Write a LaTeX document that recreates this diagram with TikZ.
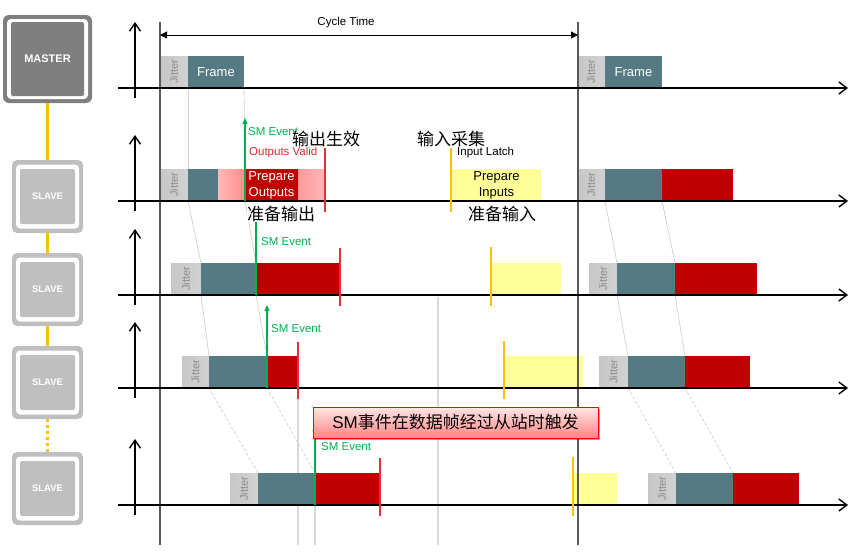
\documentclass[tikz,border=0pt]{standalone}
\usepackage{fontspec}
\setmainfont{Liberation Sans}
\newfontfamily\cjk{Noto Sans CJK SC}
\usetikzlibrary{arrows.meta,shadows}
\definecolor{tealc}{HTML}{557A84}
\definecolor{redc}{HTML}{C00000}
\definecolor{yelc}{HTML}{FFFF99}
\definecolor{chainc}{HTML}{FFC000}
\definecolor{grnc}{HTML}{00B050}
\definecolor{txtred}{HTML}{E0262E}
\definecolor{masterg}{HTML}{7F7F7F}
\definecolor{slaveg}{HTML}{BFBFBF}
\definecolor{gridc}{HTML}{CFCFCF}
\definecolor{markred}{HTML}{E0303A}
\newcommand\bx[6]{\node[#1, minimum width={(#4-#3)*1pt}] (#2) at (#3,#5) {#6};}
\newcommand\jt[4]{\node[jitbox, minimum width={(#3-#2)*1pt}] (#1) at (#2,#4) {};
  \node[jittext] (#1l) at (#1.center) {Jitter};}
\begin{document}
\begin{tikzpicture}[x=1pt,y=-1pt,
  seg/.style={draw=none, inner sep=0pt, outer sep=0pt, anchor=south west, minimum height=32pt},
  tealb/.style={seg, fill=tealc, text=white, font=\fontsize{13}{15}\selectfont},
  redb/.style={seg, fill=redc, text=white, align=center, font=\fontsize{13}{16}\selectfont},
  yelb/.style={seg, fill=yelc, text=black, align=center, font=\fontsize{13}{16}\selectfont},
  paleA/.style={seg, left color=red!28, middle color=red!6, right color=red!45},
  paleB/.style={seg, left color=red!40, middle color=red!4, right color=red!28},
  jitbox/.style={seg, left color=black!22, middle color=black!8, right color=black!18},
  jittext/.style={rotate=90, inner sep=0pt, text=black!45, font=\fontsize{11}{12}\selectfont},
  haxis/.style={line width=1.6pt, -{Straight Barb[length=8pt,width=12pt,line width=1.4pt]}},
  vaxis/.style={line width=1.6pt, -{Straight Barb[length=8pt,width=11pt,line width=1.4pt]}},
  thin/.style={draw=gridc, line width=0.7pt},
  thind/.style={draw=gridc, line width=0.7pt, dash pattern=on 3pt off 2pt},
  longg/.style={draw=black!15, line width=1.5pt},
  cyc/.style={draw=black!65, line width=1.2pt},
  redm/.style={draw=markred, line width=1.2pt},
  yelm/.style={draw=chainc, line width=1.5pt},
  grn/.style={draw=grnc, line width=1.1pt, -{Triangle[length=6pt,width=5pt]}},
  lab/.style={inner sep=0pt, anchor=west, font=\fontsize{11.5}{13}\selectfont},
  cjkl/.style={inner sep=0pt, text height=13.5pt, text depth=1.5pt, font=\cjk\fontsize{17}{19}\selectfont},
  cjkw/.style={cjkl, fill=white},
  chain/.style={draw=chainc, line width=3.5pt},
  outerM/.style={draw=none, fill=masterg, rounded corners=6pt, minimum width=89pt, minimum height=88pt},
  ringM/.style={draw=none, fill=white, rounded corners=4pt, minimum width=81pt, minimum height=80pt},
  innerM/.style={draw=none, fill=masterg, rounded corners=2pt, minimum width=73pt, minimum height=74pt,
     text=white, font=\bfseries\fontsize{11}{12}\selectfont},
  outerS/.style={draw=none, fill=slaveg, rounded corners=5pt, minimum width=71pt, minimum height=73pt},
  ringS/.style={draw=none, fill=white, rounded corners=4pt, minimum width=63pt, minimum height=64pt},
  innerS/.style={draw=none, fill=slaveg, rounded corners=2pt, minimum width=55pt, minimum height=55pt,
     text=white, font=\bfseries\fontsize{9.5}{11}\selectfont},
  callout/.style={draw=red, line width=0.8pt, top color=red!10, bottom color=red!48,
     minimum width=285pt, minimum height=31pt, inner sep=0pt,
     drop shadow={shadow xshift=2pt, shadow yshift=-2pt, opacity=0.35, fill=black},
     font=\fontsize{17}{19}\selectfont}
]
\useasboundingbox (0,0) rectangle (863,554);

% ---------- left chain ----------
\node[outerM] (mo) at (47.5,59) {};
\node[outerS] (s1o) at (47.5,196.5) {};
\node[outerS] (s2o) at (47.5,289.5) {};
\node[outerS] (s3o) at (47.5,382.5) {};
\node[outerS] (s4o) at (47.5,488.5) {};
\draw[chain] (mo.south) -- (s1o.north);
\draw[chain] (s1o.south) -- (s2o.north);
\draw[chain] (s2o.south) -- (s3o.north);
\draw[chain, dash pattern=on 3pt off 3pt] (s3o.south) -- (s4o.north);
\node[ringM] (mr) at (mo.center) {};
\node[innerM] (master) at (mo.center) {MASTER};
\foreach \n in {1,2,3,4}{
  \node[ringS] (s\n r) at (s\n o.center) {};
  \node[innerS] (s\n) at (s\n o.center) {SLAVE};
}

% ---------- long light grey verticals ----------
\coordinate (g1a) at (298,399); \coordinate (g1b) at (298,545);
\coordinate (g2a) at (315,505); \coordinate (g2b) at (315,545);
\coordinate (g3a) at (438,297); \coordinate (g3b) at (438,545);
\draw[longg] (g1a) -- (g1b);
\draw[longg] (g2a) -- (g2b);
\draw[longg] (g3a) -- (g3b);

% ---------- boxes ----------
% row 1 (master)
\jt{j1}{160}{188}{88}
\bx{tealb}{f1}{188}{244}{88}{Frame}
\jt{j1b}{577}{605}{88}
\bx{tealb}{f1b}{605}{662}{88}{Frame}
% row 2
\jt{j2}{160}{188}{201}
\bx{tealb}{t2}{188}{218}{201}{}
\bx{paleA}{pa2}{218}{245}{201}{}
\bx{redb}{r2}{245}{298}{201}{Prepare\\Outputs}
\bx{paleB}{pb2}{298}{325}{201}{}
\bx{yelb}{y2}{452}{541}{201}{Prepare\\Inputs}
\jt{j2b}{577}{605}{201}
\bx{tealb}{t2b}{605}{662}{201}{}
\bx{redb}{r2b}{662}{733}{201}{}
% row 3
\jt{j3}{171}{201}{295}
\bx{tealb}{t3}{201}{256}{295}{}
\bx{redb}{r3}{256}{340}{295}{}
\bx{yelb}{y3}{491}{561}{295}{}
\jt{j3b}{589}{617}{295}
\bx{tealb}{t3b}{617}{675}{295}{}
\bx{redb}{r3b}{675}{757}{295}{}
% row 4
\jt{j4}{182}{209}{388}
\bx{tealb}{t4}{209}{267}{388}{}
\bx{redb}{r4}{267}{298}{388}{}
\bx{yelb}{y4}{504}{583}{388}{}
\jt{j4b}{599}{628}{388}
\bx{tealb}{t4b}{628}{685}{388}{}
\bx{redb}{r4b}{685}{750}{388}{}
% row 5
\jt{j5}{230}{258}{505}
\bx{tealb}{t5}{258}{315}{505}{}
\bx{redb}{r5}{315}{380}{505}{}
\bx{yelb}{y5}{574}{617}{505}{}
\jt{j5b}{648}{676}{505}
\bx{tealb}{t5b}{676}{733}{505}{}
\bx{redb}{r5b}{733}{799}{505}{}

% ---------- frame propagation lines ----------
\draw[thin] (f1.south west) -- (t2.north west);
\draw[thin] (f1.south east) -- (r2.north west);
\draw[thin] (t2.south west) -- (t3.north west);
\draw[thin] (r2.south west) -- (t3.north east);
\draw[thin] (t3.south west) -- (t4.north west);
\draw[thin] (t3.south east) -- (t4.north east);
\draw[thind] (t4.south west) -- (t5.north west);
\draw[thind] (t4.south east) -- (t5.north east);
\draw[thin] (t2b.south west) -- (t3b.north west);
\draw[thin] (t2b.south east) -- (t3b.north east);
\draw[thin] (t3b.south west) -- (t4b.north west);
\draw[thin] (t3b.south east) -- (t4b.north east);
\draw[thind] (t4b.south west) -- (t5b.north west);
\draw[thind] (t4b.south east) -- (t5b.north east);

% ---------- cycle lines ----------
\coordinate (c1a) at (160,22); \coordinate (c1b) at (160,545);
\coordinate (c2a) at (578,22); \coordinate (c2b) at (578,545);
\draw[cyc] (c1a) -- (c1b);
\draw[cyc] (c2a) -- (c2b);
\coordinate (ct1) at (160,35); \coordinate (ct2) at (578,35);
\draw[line width=1pt, {Triangle[length=7pt,width=7pt]}-{Triangle[length=7pt,width=7pt]}] (ct1) -- (ct2);
\node[inner sep=0pt, font=\fontsize{11.5}{13}\selectfont] (cyct) at (346,23) {Cycle Time};

% ---------- axes ----------
\foreach \yy [count=\i] in {88,201,295,388,505}{
  \coordinate (ha\i) at (118,\yy); \coordinate (hb\i) at (848,\yy);
  \draw[haxis] (ha\i) -- (hb\i);
  \coordinate (va\i) at (135,\yy+10); \coordinate (vb\i) at (135,\yy-66);
  \draw[vaxis] (va\i) -- (vb\i);
}

% ---------- markers ----------
\coordinate (m2ra) at (325,148); \coordinate (m2rb) at (325,212);
\coordinate (m3ra) at (340,248); \coordinate (m3rb) at (340,306);
\coordinate (m4ra) at (298,342); \coordinate (m4rb) at (298,399);
\coordinate (m5ra) at (380,458); \coordinate (m5rb) at (380,516);
\draw[redm] (m2ra) -- (m2rb);
\draw[redm] (m3ra) -- (m3rb);
\draw[redm] (m4ra) -- (m4rb);
\draw[redm] (m5ra) -- (m5rb);
\coordinate (m2ya) at (451,148); \coordinate (m2yb) at (451,212);
\coordinate (m3ya) at (491,247); \coordinate (m3yb) at (491,306);
\coordinate (m4ya) at (504,341); \coordinate (m4yb) at (504,399);
\coordinate (m5ya) at (573,457); \coordinate (m5yb) at (573,516);
\draw[yelm] (m2ya) -- (m2yb);
\draw[yelm] (m3ya) -- (m3yb);
\draw[yelm] (m4ya) -- (m4yb);
\draw[yelm] (m5ya) -- (m5yb);

% ---------- SM events ----------
\coordinate (e2) at (245,118);
\coordinate (e3) at (256,213);
\coordinate (e4) at (267,305);
\coordinate (e5) at (315,425);
\draw[grn] (r2.south west) -- (e2);
\draw[grn] (r3.south west) -- (e3);
\draw[grn] (r4.south west) -- (e4);
\draw[grn] (r5.south west) -- (e5);
\node[lab, text=grnc] (sm2) at (248,132) {SM Event};
\node[lab, text=grnc] (sm3) at (261,242) {SM Event};
\node[lab, text=grnc] (sm4) at (271,329) {SM Event};
\node[lab, text=grnc] (sm5) at (321,447) {SM Event};
\node[lab, text=txtred] (ov) at (249,153) {Outputs Valid};
\node[lab] (il) at (457,153) {Input Latch};

% ---------- chinese labels ----------
\node[cjkw] (zh1) at (326,139) {输出生效};
\node[cjkw] (zh2) at (281,214) {准备输出};
\node[cjkl] (zh3) at (451,139) {输入采集};
\node[cjkl] (zh4) at (502,214) {准备输入};

% ---------- callout ----------
\node[callout] (cb) at (455.5,422.5) {SM{\cjk 事件在数据帧经过从站时触发}};
\end{tikzpicture}
\end{document}
